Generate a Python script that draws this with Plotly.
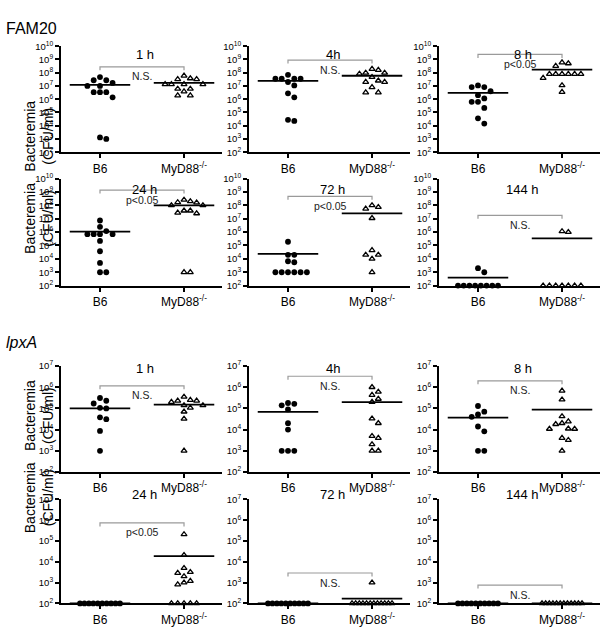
import numpy as np
import plotly.graph_objects as go

# ---------------- data (CFU/ml) ----------------
groups = ["B6", "MyD88<sup>-/-</sup>"]
fam20_times = ["1 h", "4h", "8 h", "24 h", "72 h", "144 h"]
lpxa_times = ["1 h", "4h", "8 h", "24 h", "72 h", "144 h"]

fam20_1h_b6 = [4.7e7, 2.7e7, 2.7e7, 1.7e7, 1.0e7, 1.0e7, 3.4e6, 3.4e6, 3.4e6, 1.4e6, 1.0e3, 1.3e3]
fam20_1h_myd88 = [5.9e7, 3.7e7, 3.2e7, 3.2e7, 1.35e7, 1.35e7, 1.35e7, 1.35e7, 6.0e6, 6.0e6, 3.8e6, 1.9e6, 1.9e6]
fam20_4h_b6 = [6.9e7, 3.5e7, 3.5e7, 3.5e7, 3.5e7, 2.0e7, 1.1e7, 2.8e6, 1.4e6, 2.3e4, 2.8e4]
fam20_4h_myd88 = [1.9e8, 1.6e8, 9.8e7, 9.8e7, 8.3e7, 4.7e7, 2.5e7, 2.0e7, 2.0e7, 8.0e6, 3.2e6, 3.2e6]
fam20_8h_b6 = [1.1e7, 8.3e6, 8.3e6, 4.0e6, 2.0e6, 1.15e6, 6.3e5, 6.3e5, 2.2e5, 3.6e4, 1.45e4]
fam20_8h_myd88 = [5.9e8, 5.0e8, 3.2e8, 8.0e7, 8.0e7, 8.0e7, 8.0e7, 8.0e7, 8.0e7, 4.0e7, 1.1e7, 3.5e6]
fam20_24h_b6 = [7.4e6, 2.5e6, 1.2e6, 7.0e5, 7.0e5, 7.0e5, 7.0e5, 2.2e5, 3.7e4, 5.0e3, 1.0e3, 1.0e3]
fam20_24h_myd88 = [2.6e8, 2.0e8, 1.7e8, 1.6e8, 1.0e8, 1.0e8, 4.0e7, 4.0e7, 2.8e7, 2.5e7, 1.0e3, 1.0e3]
fam20_72h_b6 = [1.9e5, 2.0e4, 2.0e4, 6.6e3, 5.6e3, 1e3, 1e3, 1e3, 1e3, 1e3, 1e3]
fam20_72h_myd88 = [1.0e8, 7.4e7, 5.6e7, 1.1e7, 4.4e4, 2.0e4, 2.0e4, 1.0e4, 1.0e3]
fam20_144h_b6 = [2.0e3, 1.0e3, 100, 100, 100, 100, 100, 100, 100, 100]
fam20_144h_myd88 = [1.15e6, 1.0e6, 100, 100, 100, 100, 100, 100, 100]

lpxa_1h_b6 = [3.1e5, 2.3e5, 1.7e5, 1.07e5, 1.0e5, 3.8e4, 3.1e4, 8.7e3, 1.0e3]
lpxa_1h_myd88 = [3.5e5, 2.5e5, 2.3e5, 2.3e5, 2.0e5, 1.4e5, 1.4e5, 1.07e5, 7.0e4, 3.2e4, 1.0e3]
lpxa_4h_b6 = [1.8e5, 1.65e5, 1.4e5, 9.0e4, 2.0e4, 1.0e4, 1e3, 1e3, 1e3]
lpxa_4h_myd88 = [1.0e6, 6.0e5, 4.3e5, 2.8e5, 2.0e5, 3.3e4, 2.0e4, 4.9e3, 4.0e3, 2.0e3, 1.0e3, 1.0e3]
lpxa_8h_b6 = [1.3e5, 7.0e4, 5.2e4, 4.0e4, 1.4e4, 8.3e3, 1.0e3, 1.0e3]
lpxa_8h_myd88 = [6.8e5, 2.6e5, 4.2e4, 2.4e4, 2.0e4, 1.8e4, 1.1e4, 1.07e4, 1.07e4, 4.0e3, 3.2e3, 1.0e3]
lpxa_24h_b6 = [100, 100, 100, 100, 100, 100, 100, 100, 100, 100]
lpxa_24h_myd88 = [2.1e5, 2.1e4, 5.0e3, 3.2e3, 2.9e3, 2.0e3, 1.2e3, 1.0e3, 8.1e2, 100, 100, 100, 100, 100]
lpxa_72h_b6 = [100, 100, 100, 100, 100, 100, 100, 100, 100, 100]
lpxa_72h_myd88 = [1.0e3, 100, 100, 100, 100, 100, 100, 100, 100, 100, 100, 100, 100]
lpxa_144h_b6 = [100, 100, 100, 100, 100, 100, 100, 100, 100, 100]
lpxa_144h_myd88 = [100, 100, 100, 100, 100, 100, 100, 100, 100, 100, 100, 100]

# group means (horizontal bars)
fam20_b6_means = [1.2e7, 2.4e7, 3.0e6, 1.1e6, 2.4e4, 4.0e2]
fam20_myd88_means = [1.7e7, 5.9e7, 1.7e8, 1.0e8, 2.5e7, 3.4e5]
lpxa_b6_means = [1.0e5, 6.8e4, 3.7e4, 100, 100, 100]
lpxa_myd88_means = [1.5e5, 2.0e5, 8.7e4, 1.9e4, 1.7e2, 100]

# significance brackets
fam20_bracket = [2.75e8, 8.9e8, 2.4e9, 1.4e9, 4.7e8, 1.8e7]
fam20_sig = ["N.S.", "N.S.", "p<0.05", "p<0.05", "p<0.05", "N.S."]
lpxa_bracket = [1.15e6, 3.3e6, 2.0e6, 7.4e5, 2.9e3, 7.6e2]
lpxa_sig = ["N.S.", "N.S.", "N.S.", "p<0.05", "N.S.", "N.S."]

fam20_b6 = [fam20_1h_b6, fam20_4h_b6, fam20_8h_b6, fam20_24h_b6, fam20_72h_b6, fam20_144h_b6]
fam20_myd88 = [fam20_1h_myd88, fam20_4h_myd88, fam20_8h_myd88, fam20_24h_myd88, fam20_72h_myd88, fam20_144h_myd88]
lpxa_b6 = [lpxa_1h_b6, lpxa_4h_b6, lpxa_8h_b6, lpxa_24h_b6, lpxa_72h_b6, lpxa_144h_b6]
lpxa_myd88 = [lpxa_1h_myd88, lpxa_4h_myd88, lpxa_8h_myd88, lpxa_24h_myd88, lpxa_72h_myd88, lpxa_144h_myd88]

# ---------------- layout geometry (pixels) ----------------
W, H = 608, 630
col_px = [(61, 222), (249, 410), (439, 600)]
row_px = [(40, 148), (175, 284), (366, 474), (502, 608)]
row_title_px = [40, 177, 369, 506]
row_ytitle_px = [94, 216, 417, 539]
XR = [-0.464, 1.452]
FONT = "Liberation Sans, Arial, Helvetica, sans-serif"

fig = go.Figure()
annotations = []


def swarm(values, ppd, ppu, d=6.3, wmax=40.0):
    vals = np.asarray(values, dtype=float)
    logs = np.log10(vals)
    order = np.argsort(-logs, kind="stable")
    cands = [0]
    for j in range(1, 40):
        cands += [j, -j]
    placed = []
    off = np.zeros(len(vals))
    for i in order:
        y = logs[i] * ppd
        for c in cands:
            if all(not (ps == c and abs(py - y) < d) for ps, py in placed):
                break
        placed.append((c, y))
        off[i] = c * d
    # large groups of identical values (detection limit) are packed and centred
    for v in np.unique(vals):
        idx = np.where(vals == v)[0]
        n = len(idx)
        if n >= 7:
            sp = min(d, wmax / (n - 1))
            for k, i in enumerate(idx):
                off[i] = (k - (n - 1) / 2) * sp
    return off / ppu


panels = []
for p in range(6):
    panels.append((fam20_times[p], fam20_b6[p], fam20_myd88[p], fam20_b6_means[p],
                   fam20_myd88_means[p], fam20_bracket[p], fam20_sig[p], (2, 10)))
for p in range(6):
    panels.append((lpxa_times[p], lpxa_b6[p], lpxa_myd88[p], lpxa_b6_means[p],
                   lpxa_myd88_means[p], lpxa_bracket[p], lpxa_sig[p], (2, 7)))

for p, (title, b6, myd, mb6, mmyd, br, sig, yr) in enumerate(panels):
    r, c = p // 3, p % 3
    n = p + 1
    xa = "x" if n == 1 else f"x{n}"
    ya = "y" if n == 1 else f"y{n}"
    x0, x1 = col_px[c]
    t, b = row_px[r]
    ppu = (x1 - x0) / (XR[1] - XR[0])
    ppd = (b - t) / (yr[1] - yr[0])

    # means
    for cx, m in ((0, mb6), (1, mmyd)):
        fig.add_trace(go.Scatter(x=[cx - 0.36, cx + 0.36], y=[m, m], mode="lines",
                                 line=dict(color="black", width=1.8),
                                 xaxis=xa, yaxis=ya, hoverinfo="skip", cliponaxis=False))
    # points
    ob6 = swarm(b6, ppd, ppu)
    fig.add_trace(go.Scatter(x=0 + ob6, y=b6, mode="markers",
                             marker=dict(symbol="circle", size=5.8, color="black", line=dict(width=0)),
                             xaxis=xa, yaxis=ya, cliponaxis=False, name=groups[0]))
    omy = swarm(myd, ppd, ppu)
    fig.add_trace(go.Scatter(x=1 + omy, y=myd, mode="markers",
                             marker=dict(symbol="triangle-up-open", size=5.2, color="black",
                                         line=dict(width=1.3, color="black")),
                             xaxis=xa, yaxis=ya, cliponaxis=False, name="MyD88-/-"))
    # bracket
    drop = 10 ** (-3.5 / ppd)
    fig.add_trace(go.Scatter(x=[0, 0, 1, 1], y=[br * drop, br, br, br * drop], mode="lines",
                             line=dict(color="#9a9a9a", width=1.2),
                             xaxis=xa, yaxis=ya, hoverinfo="skip", cliponaxis=False))
    annotations.append(dict(x=0.5, y=np.log10(br), xref=xa, yref=ya, text=sig, showarrow=False,
                            yshift=-9.5, borderpad=0,
                            font=dict(size=10.5, color="#222222", family=FONT)))
    # panel title
    annotations.append(dict(x=0.53, xref=xa, y=1 - row_title_px[r] / H, yref="paper",
                            text=title, showarrow=False, borderpad=0,
                            font=dict(size=13, color="black", family=FONT)))

    fig.layout[("xaxis" if n == 1 else f"xaxis{n}")] = dict(
        domain=[x0 / W, x1 / W], range=XR, anchor=ya,
        tickmode="array", tickvals=[0, 1], ticktext=groups,
        showline=True, linecolor="black", linewidth=2,
        ticks="outside", ticklen=4, tickwidth=1.5, tickcolor="black",
        showgrid=False, zeroline=False, tickfont=dict(size=12, color="black", family=FONT))
    fig.layout[("yaxis" if n == 1 else f"yaxis{n}")] = dict(
        domain=[1 - b / H, 1 - t / H], type="log", range=list(yr), anchor=xa,
        tickmode="array", tickvals=[10 ** k for k in range(yr[0], yr[1] + 1)],
        ticktext=[f"10<sup>{k}</sup>" for k in range(yr[0], yr[1] + 1)],
        showline=True, linecolor="black", linewidth=2,
        ticks="outside", ticklen=4, tickwidth=1.5, tickcolor="black",
        showgrid=False, zeroline=False, tickfont=dict(size=9.5, color="black", family=FONT))

for r in range(4):
    annotations.append(dict(x=20 / W, y=1 - row_ytitle_px[r] / H, xref="paper", yref="paper",
                            text="Bacteremia<br>(CFU/ml)", textangle=-90, showarrow=False,
                            font=dict(size=14, color="black", family=FONT)))

annotations.append(dict(x=4 / W, y=1 - 11 / H, xref="paper", yref="paper", text="FAM20",
                        xanchor="left", showarrow=False, font=dict(size=16, color="black", family=FONT)))
annotations.append(dict(x=4 / W, y=1 - 342 / H, xref="paper", yref="paper", text="<i>lpxA</i>",
                        xanchor="left", showarrow=False, font=dict(size=16, color="black", family=FONT)))

fig.update_layout(width=W, height=H, margin=dict(l=0, r=0, t=0, b=0),
                  paper_bgcolor="white", plot_bgcolor="white", showlegend=False,
                  annotations=annotations, font=dict(family=FONT, color="black"))

fig.write_html("out.html", config={"displayModeBar": False},
               post_script="document.body.style.margin='0';document.body.style.padding='0';"
                           "document.documentElement.style.overflow='hidden';")
